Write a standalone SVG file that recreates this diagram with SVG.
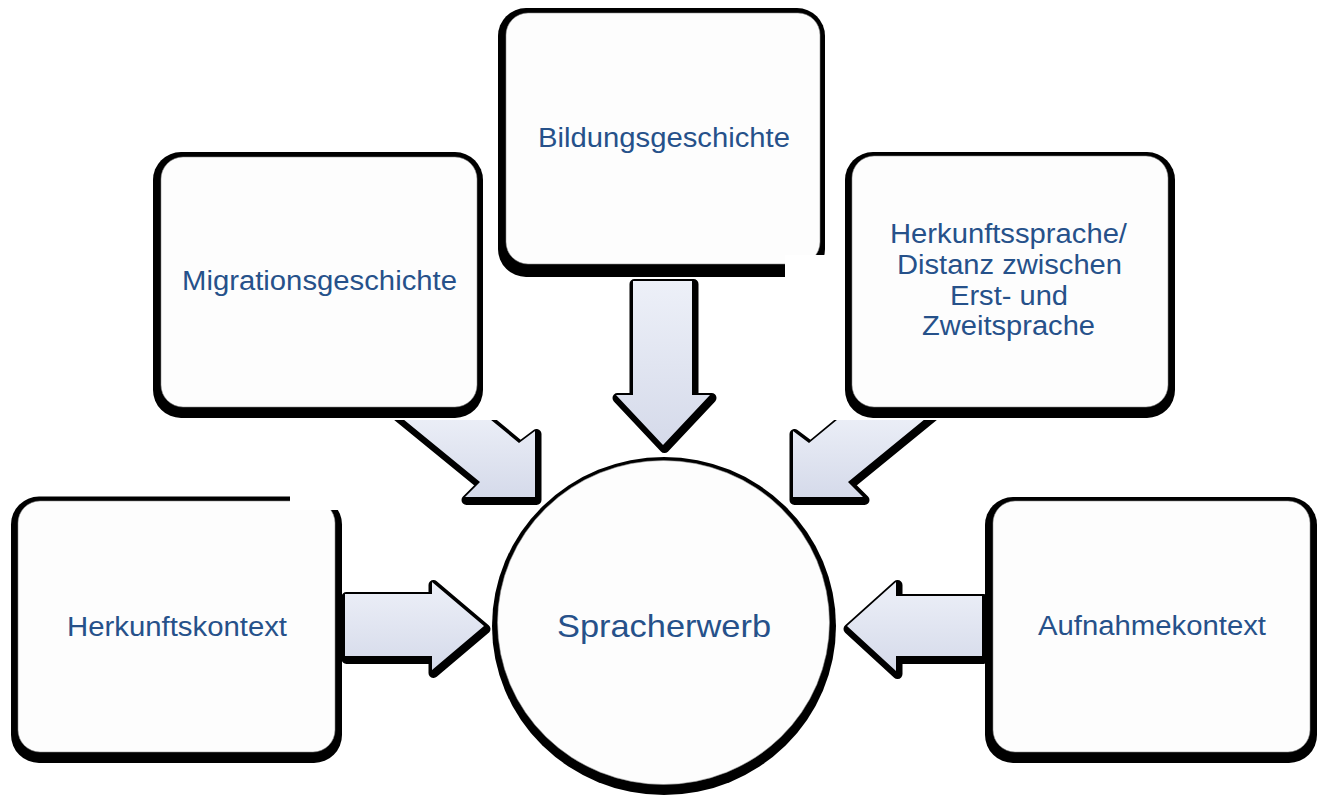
<svg xmlns="http://www.w3.org/2000/svg" width="1323" height="798" viewBox="0 0 1323 798">
  <style>
    .halo { fill: #000; stroke: #000; stroke-width: 10; stroke-linejoin: round; filter: url(#soft); }
    .arrow { fill: url(#arrowFill); }
    .shadow { fill: #000; filter: url(#soft); }
    .face { fill: #fdfdfd; stroke: #8a8a8a; stroke-width: 1; stroke-opacity: 0.55; }
    .label { font-family: "Liberation Sans", Arial, sans-serif; font-size: 27px; fill: #26518a; text-anchor: middle; }
    .hub { font-size: 32px; }
    .mask { fill: #fff; }
  </style>
  <defs>
    <linearGradient id="arrowFill" x1="0" y1="0" x2="0" y2="1">
      <stop offset="0" stop-color="#edf0f8"/>
      <stop offset="1" stop-color="#d5daea"/>
    </linearGradient>
    <filter id="soft" x="-5%" y="-5%" width="110%" height="110%">
      <feGaussianBlur stdDeviation="0.7"/>
    </filter>
    <clipPath id="belowBoxes">
      <rect x="0" y="420" width="1323" height="378"/>
    </clipPath>
  </defs>

  <!-- block arrows pointing at the hub -->
  <g id="connectors">
    <!-- from Herkunftskontext -->
    <g id="arrow-left">
      <path class="halo" transform="translate(1.5,3)" d="M345,594 H432 V582 L484,626 L432,670 V656 H345 Z"/>
      <path class="arrow" d="M345,594 H432 V582 L484,626 L432,670 V656 H345 Z"/>
    </g>
    <!-- from Aufnahmekontext -->
    <g id="arrow-right">
      <path class="halo" transform="translate(1.5,3)" d="M982,596 H896 V582 L847,626 L896,671 V656 H982 Z"/>
      <path class="arrow" d="M982,596 H896 V582 L847,626 L896,671 V656 H982 Z"/>
    </g>
    <!-- from Bildungsgeschichte -->
    <g id="arrow-top">
      <path class="halo" transform="translate(1.5,3)" d="M633,281 V395 H616 L663,445 L710,395 H692 V281 Z"/>
      <path class="arrow" d="M633,281 V395 H616 L663,445 L710,395 H692 V281 Z"/>
    </g>
    <!-- from Migrationsgeschichte -->
    <g id="arrow-top-left" clip-path="url(#belowBoxes)">
      <path class="halo" transform="translate(1.5,3)" d="M479,410 L519,443 L535,431 L535,497 L465,497 L480,482 L392,410 Z"/>
      <path class="arrow" d="M479,410 L519,443 L535,431 L535,497 L465,497 L480,482 L392,410 Z"/>
    </g>
    <!-- from Herkunftssprache -->
    <g id="arrow-top-right" clip-path="url(#belowBoxes)">
      <path class="halo" transform="translate(1.5,3)" d="M849,410 L809,443 L793,431 L793,497 L863,497 L848,482 L936,410 Z"/>
      <path class="arrow" d="M849,410 L809,443 L793,431 L793,497 L863,497 L848,482 L936,410 Z"/>
    </g>
  </g>

  <!-- hub -->
  <g id="node-spracherwerb">
    <ellipse class="shadow" cx="664" cy="626" rx="172" ry="169"/>
    <ellipse class="face" cx="663.5" cy="622.5" rx="166" ry="162"/>
    <text class="label hub" x="664" y="637" textLength="214" lengthAdjust="spacingAndGlyphs">Spracherwerb</text>
  </g>

  <!-- factor boxes -->
  <g id="node-herkunftskontext">
    <rect class="shadow" x="11" y="496.5" width="331" height="266.5" rx="28"/>
    <rect class="face" x="18" y="501" width="317" height="251" rx="22"/>
    <text class="label" x="177" y="636" textLength="220" lengthAdjust="spacingAndGlyphs">Herkunftskontext</text>
  </g>
  <g id="node-migrationsgeschichte">
    <rect class="shadow" x="153" y="152" width="330" height="266" rx="28"/>
    <rect class="face" x="161" y="157" width="316" height="250" rx="22"/>
    <text class="label" x="319.5" y="290" textLength="275" lengthAdjust="spacingAndGlyphs">Migrationsgeschichte</text>
  </g>
  <g id="node-bildungsgeschichte">
    <rect class="shadow" x="498" y="8" width="327" height="269" rx="28"/>
    <rect class="face" x="506" y="13" width="314" height="251" rx="22"/>
    <text class="label" x="664" y="147" textLength="252" lengthAdjust="spacingAndGlyphs">Bildungsgeschichte</text>
  </g>
  <g id="node-herkunftssprache">
    <rect class="shadow" x="845" y="152" width="330" height="266" rx="28"/>
    <rect class="face" x="852" y="156" width="316" height="251" rx="22"/>
    <text class="label" x="1008.5" y="243" textLength="237" lengthAdjust="spacingAndGlyphs">Herkunftssprache/</text>
    <text class="label" x="1009.5" y="274" textLength="225" lengthAdjust="spacingAndGlyphs">Distanz zwischen</text>
    <text class="label" x="1009" y="304.5" textLength="118" lengthAdjust="spacingAndGlyphs">Erst- und</text>
    <text class="label" x="1008.5" y="335" textLength="173" lengthAdjust="spacingAndGlyphs">Zweitsprache</text>
  </g>
  <g id="node-aufnahmekontext">
    <rect class="shadow" x="985" y="497" width="332" height="266" rx="28"/>
    <rect class="face" x="993" y="501" width="317" height="251" rx="22"/>
    <text class="label" x="1152" y="635" textLength="228" lengthAdjust="spacingAndGlyphs">Aufnahmekontext</text>
  </g>

  <!-- blank patches over two box corners -->
  <rect class="mask" x="290" y="486" width="58" height="24"/>
  <rect class="mask" x="785" y="255" width="45" height="25"/>
</svg>
